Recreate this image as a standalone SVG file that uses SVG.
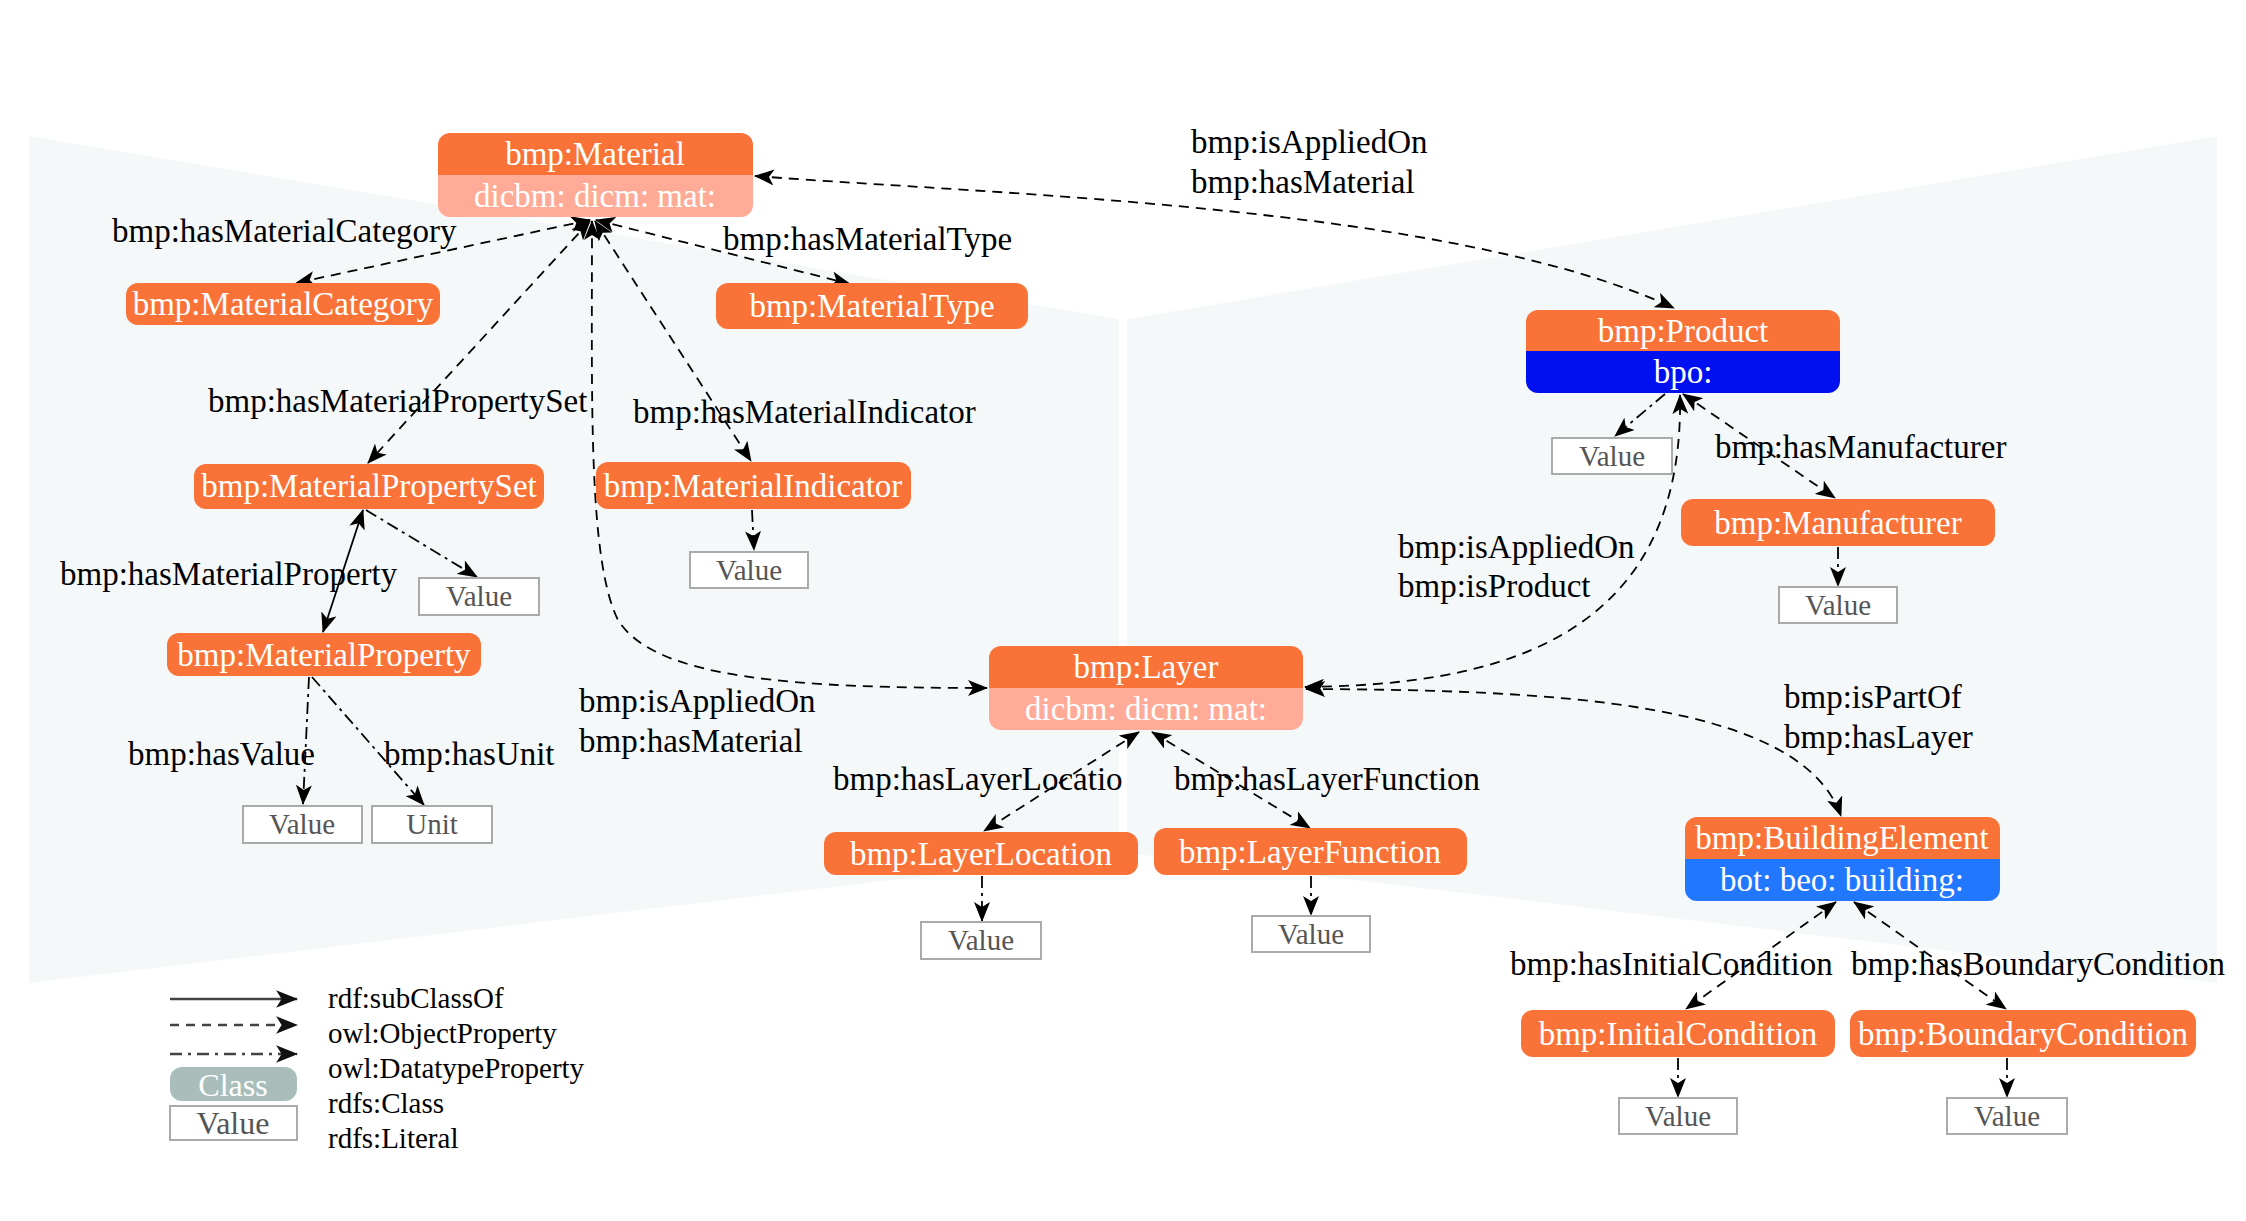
<svg xmlns="http://www.w3.org/2000/svg" width="2246" height="1221" viewBox="0 0 2246 1221">
<defs>
<style>
text{font-family:"Liberation Serif","Times New Roman",serif;}
.lbl{font-size:33px;fill:#000;}
.nt{font-size:33px;fill:#fff;text-anchor:middle;}
.vt{font-size:29px;fill:#555;text-anchor:middle;}
.lg{font-size:29px;fill:#000;}
.cls{fill:#f97339;}
.sub{fill:#ffab98;}
.val{fill:#fff;stroke:#aaa;stroke-width:2;}
.e{fill:none;stroke:#000;stroke-width:1.8;}
.obj{stroke-dasharray:10 7;}
.dt{stroke-dasharray:12 5 3 5;}
.m2{marker-start:url(#ah);marker-end:url(#ah);}
.m1{marker-end:url(#ah);}
</style>
<marker id="ah" viewBox="0 0 20 16" refX="19" refY="8" markerWidth="20" markerHeight="16" markerUnits="userSpaceOnUse" orient="auto-start-reverse">
<path d="M0,0 L20,8 L0,16 L5,8 z" fill="#000"/>
</marker>
<marker id="ahl" viewBox="0 0 20 16" refX="19" refY="8" markerWidth="22" markerHeight="18" markerUnits="userSpaceOnUse" orient="auto">
<path d="M0,0 L20,8 L0,16 L5,8 z" fill="#111"/>
</marker>
</defs>
<rect width="2246" height="1221" fill="#fff"/>
<g id="panels">
<polygon points="29,136 1119,319 1119,853 29,983" fill="#f5f8f9"/>
<polygon points="1127,319 2217,136 2217,983 1127,853" fill="#f5f8f9"/>
</g>
<g id="connectors">
<path class="e obj m2" d="M755,176 C1000,195 1450,205 1674,308"/>
<path class="e obj m2" d="M590,220 L296,283"/>
<path class="e obj m2" d="M596,220 L850,284"/>
<path class="e obj m2" d="M590,221 L368,463"/>
<path class="e obj m2" d="M595,221 L751,461"/>
<path class="e obj m2" d="M592,221 C592,400 588,560 618,620 C655,680 800,688 987,688"/>
<path class="e m2" d="M363,510 L323,632"/>
<path class="e dt m1" d="M366,510 L477,577"/>
<path class="e dt m1" d="M752,510 L754,550"/>
<path class="e dt m1" d="M309,677 L303,804"/>
<path class="e dt m1" d="M312,677 L424,805"/>
<path class="e obj m2" d="M1139,732 L984,831"/>
<path class="e obj m2" d="M1152,732 L1310,828"/>
<path class="e dt m1" d="M982,876 L982,921"/>
<path class="e dt m1" d="M1311,876 L1311,915"/>
<path class="e obj m2" d="M1305,687 C1480,685 1685,650 1680,395"/>
<path class="e dt m1" d="M1665,394 L1615,436"/>
<path class="e obj m2" d="M1683,394 L1835,498"/>
<path class="e dt m1" d="M1838,547 L1838,586"/>
<path class="e obj m2" d="M1306,689 C1550,690 1800,700 1841,816"/>
<path class="e obj m2" d="M1836,902 L1686,1009"/>
<path class="e obj m2" d="M1854,902 L2006,1009"/>
<path class="e dt m1" d="M1678,1058 L1678,1097"/>
<path class="e dt m1" d="M2007,1058 L2007,1097"/>
</g>
<g id="edge-labels">
<text class="lbl" x="1191" y="153">bmp:isAppliedOn</text>
<text class="lbl" x="1191" y="193">bmp:hasMaterial</text>
<text class="lbl" x="112" y="242">bmp:hasMaterialCategory</text>
<text class="lbl" x="723" y="250">bmp:hasMaterialType</text>
<text class="lbl" x="208" y="412">bmp:hasMaterialPropertySet</text>
<text class="lbl" x="633" y="423">bmp:hasMaterialIndicator</text>
<text class="lbl" x="60" y="585">bmp:hasMaterialProperty</text>
<text class="lbl" x="128" y="765">bmp:hasValue</text>
<text class="lbl" x="384" y="765">bmp:hasUnit</text>
<text class="lbl" x="579" y="712">bmp:isAppliedOn</text>
<text class="lbl" x="579" y="752">bmp:hasMaterial</text>
<text class="lbl" x="833" y="790">bmp:hasLayerLocatio</text>
<text class="lbl" x="1174" y="790">bmp:hasLayerFunction</text>
<text class="lbl" x="1398" y="558">bmp:isAppliedOn</text>
<text class="lbl" x="1398" y="597">bmp:isProduct</text>
<text class="lbl" x="1715" y="458">bmp:hasManufacturer</text>
<text class="lbl" x="1784" y="708">bmp:isPartOf</text>
<text class="lbl" x="1784" y="748">bmp:hasLayer</text>
<text class="lbl" x="1510" y="975">bmp:hasInitialCondition</text>
<text class="lbl" x="1851" y="975">bmp:hasBoundaryCondition</text>
</g>
<g id="n-material">
<path class="sub" d="M438,175 H753 V205 a12,12 0 0 1 -12,12 H450 a12,12 0 0 1 -12,-12 Z"/>
<path class="cls" d="M450,133 H741 a12,12 0 0 1 12,12 V175 H438 V145 a12,12 0 0 1 12,-12 Z"/>
<text class="nt" x="595" y="165">bmp:Material</text>
<text class="nt" x="595" y="207">dicbm: dicm: mat:</text>
</g>
<g id="n-materialcategory">
<rect class="cls" x="126" y="283" width="314" height="42" rx="12"/>
<text class="nt" x="283" y="315">bmp:MaterialCategory</text>
</g>
<g id="n-materialtype">
<rect class="cls" x="716" y="283" width="312" height="46" rx="12"/>
<text class="nt" x="872" y="317">bmp:MaterialType</text>
</g>
<g id="n-materialpropertyset">
<rect class="cls" x="194" y="464" width="350" height="45" rx="12"/>
<text class="nt" x="369" y="497">bmp:MaterialPropertySet</text>
</g>
<g id="n-materialindicator">
<rect class="cls" x="596" y="462" width="315" height="47" rx="12"/>
<text class="nt" x="753" y="497">bmp:MaterialIndicator</text>
</g>
<g id="v-mps">
<rect class="val" x="419" y="578" width="120" height="37"/>
<text class="vt" x="479" y="606">Value</text>
</g>
<g id="v-mi">
<rect class="val" x="690" y="552" width="118" height="36"/>
<text class="vt" x="749" y="580">Value</text>
</g>
<g id="n-materialproperty">
<rect class="cls" x="167" y="633" width="314" height="43" rx="12"/>
<text class="nt" x="324" y="666">bmp:MaterialProperty</text>
</g>
<g id="v-mp">
<rect class="val" x="243" y="806" width="119" height="37"/>
<text class="vt" x="302" y="834">Value</text>
</g>
<g id="v-unit">
<rect class="val" x="372" y="806" width="120" height="37"/>
<text class="vt" x="432" y="834">Unit</text>
</g>
<g id="n-layer">
<path class="sub" d="M989,688 H1303 V718 a12,12 0 0 1 -12,12 H1001 a12,12 0 0 1 -12,-12 Z"/>
<path class="cls" d="M1001,646 H1291 a12,12 0 0 1 12,12 V688 H989 V658 a12,12 0 0 1 12,-12 Z"/>
<text class="nt" x="1146" y="678">bmp:Layer</text>
<text class="nt" x="1146" y="720">dicbm: dicm: mat:</text>
</g>
<g id="n-layerlocation">
<rect class="cls" x="824" y="832" width="314" height="43" rx="12"/>
<text class="nt" x="981" y="865">bmp:LayerLocation</text>
</g>
<g id="n-layerfunction">
<rect class="cls" x="1154" y="828" width="313" height="47" rx="12"/>
<text class="nt" x="1310" y="863">bmp:LayerFunction</text>
</g>
<g id="v-ll">
<rect class="val" x="921" y="922" width="120" height="37"/>
<text class="vt" x="981" y="950">Value</text>
</g>
<g id="v-lf">
<rect class="val" x="1252" y="916" width="118" height="36"/>
<text class="vt" x="1311" y="944">Value</text>
</g>
<g id="n-product">
<path d="M1526,351 H1840 V381 a12,12 0 0 1 -12,12 H1538 a12,12 0 0 1 -12,-12 Z" fill="#0010f0"/>
<path class="cls" d="M1538,310 H1828 a12,12 0 0 1 12,12 V351 H1526 V322 a12,12 0 0 1 12,-12 Z"/>
<text class="nt" x="1683" y="342">bmp:Product</text>
<text class="nt" x="1683" y="383">bpo:</text>
</g>
<g id="v-prod">
<rect class="val" x="1552" y="438" width="120" height="36"/>
<text class="vt" x="1612" y="466">Value</text>
</g>
<g id="n-manufacturer">
<rect class="cls" x="1681" y="499" width="314" height="47" rx="12"/>
<text class="nt" x="1838" y="534">bmp:Manufacturer</text>
</g>
<g id="v-manu">
<rect class="val" x="1779" y="587" width="118" height="36"/>
<text class="vt" x="1838" y="615">Value</text>
</g>
<g id="n-buildingelement">
<path d="M1685,859 H2000 V889 a12,12 0 0 1 -12,12 H1697 a12,12 0 0 1 -12,-12 Z" fill="#2277ff"/>
<path class="cls" d="M1697,817 H1988 a12,12 0 0 1 12,12 V859 H1685 V829 a12,12 0 0 1 12,-12 Z"/>
<text class="nt" x="1842" y="849">bmp:BuildingElement</text>
<text class="nt" x="1842" y="891">bot: beo: building:</text>
</g>
<g id="n-initialcondition">
<rect class="cls" x="1521" y="1010" width="314" height="47" rx="12"/>
<text class="nt" x="1678" y="1045">bmp:InitialCondition</text>
</g>
<g id="n-boundarycondition">
<rect class="cls" x="1850" y="1010" width="346" height="47" rx="12"/>
<text class="nt" x="2023" y="1045">bmp:BoundaryCondition</text>
</g>
<g id="v-ic">
<rect class="val" x="1619" y="1098" width="118" height="36"/>
<text class="vt" x="1678" y="1126">Value</text>
</g>
<g id="v-bc">
<rect class="val" x="1947" y="1098" width="120" height="36"/>
<text class="vt" x="2007" y="1126">Value</text>
</g>
<g id="legend">
<line x1="170" y1="999" x2="297" y2="999" stroke="#444" stroke-width="2.5" marker-end="url(#ahl)"/>
<line x1="170" y1="1025" x2="297" y2="1025" stroke="#444" stroke-width="2.5" stroke-dasharray="9 7" marker-end="url(#ahl)"/>
<line x1="170" y1="1054" x2="297" y2="1054" stroke="#444" stroke-width="2.5" stroke-dasharray="12 6 3 6" marker-end="url(#ahl)"/>
<rect x="170" y="1067" width="127" height="34" rx="12" fill="#a9bebb"/>
<text x="233" y="1096" font-size="32" fill="#fff" text-anchor="middle">Class</text>
<rect class="val" x="170" y="1106" width="127" height="34"/>
<text x="233" y="1134" font-size="32" fill="#555" text-anchor="middle">Value</text>
<text class="lg" x="328" y="1008">rdf:subClassOf</text>
<text class="lg" x="328" y="1043">owl:ObjectProperty</text>
<text class="lg" x="328" y="1078">owl:DatatypeProperty</text>
<text class="lg" x="328" y="1113">rdfs:Class</text>
<text class="lg" x="328" y="1148">rdfs:Literal</text>
</g>
</svg>
